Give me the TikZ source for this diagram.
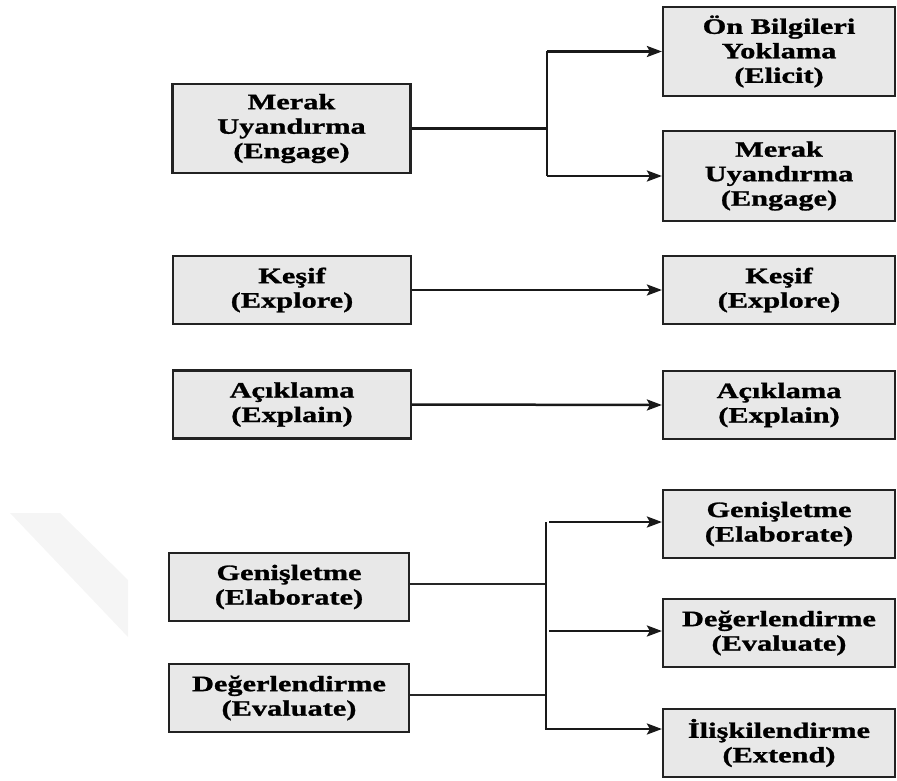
\documentclass[tikz,border=0pt]{standalone}
\usepackage{fontspec}
\usetikzlibrary{arrows.meta}
\newfontfamily\boxfont{Liberation Serif Bold}[FakeStretch=1.38, FakeBold=1.2]
\definecolor{boxfill}{HTML}{E8E8E8}
\definecolor{boxline}{HTML}{222222}
\tikzset{
  stagebox/.style={draw=boxline, line width=2.2pt, fill=boxfill, inner sep=0pt,
    align=center, font=\boxfont\fontsize{22}{24.5}\selectfont},
  leftbox/.style={stagebox, minimum width=238pt},
  rightbox/.style={stagebox, minimum width=232pt},
  flow/.style={draw=black!90, line width=2.5pt, -{Stealth[length=15pt,width=11pt,inset=3pt]}},
  link/.style={draw=black!90, line width=2.5pt},
  thinlink/.style={draw=black!85, line width=1.7pt}
}
\begin{document}
\begin{tikzpicture}[x=1pt,y=-1pt]
  \useasboundingbox (0,0) rectangle (897,781);

  % faint diagonal band in the lower left
  \fill[black!4] (10,513) -- (60,513) -- (128,580) -- (128,637) -- cycle;

  % stages of the first model
  \node[leftbox, minimum height=89pt] (lEng) at (291.5,128.5) {Merak\\Uyandırma\\(Engage)};
  \node[leftbox, minimum height=68pt] (lExp) at (292,290) {Keşif\\(Explore)};
  \node[leftbox, minimum height=68pt] (lExl) at (292,404.5) {Açıklama\\(Explain)};
  \node[leftbox, minimum width=240pt, minimum height=68pt] (lEla) at (289,587) {Genişletme\\(Elaborate)};
  \node[leftbox, minimum width=240pt, minimum height=68pt] (lEva) at (289,698) {Değerlendirme\\(Evaluate)};

  % stages of the extended model
  \node[rightbox, minimum height=89pt] (rEli) at (779,51.5) {Ön Bilgileri\\Yoklama\\(Elicit)};
  \node[rightbox, minimum height=90pt] (rEng) at (779,176) {Merak\\Uyandırma\\(Engage)};
  \node[rightbox, minimum height=68pt] (rExp) at (779,290) {Keşif\\(Explore)};
  \node[rightbox, minimum height=68pt] (rExl) at (779,405) {Açıklama\\(Explain)};
  \node[rightbox, minimum height=68pt] (rEla) at (779,524) {Genişletme\\(Elaborate)};
  \node[rightbox, minimum height=68pt] (rEva) at (779,633) {Değerlendirme\\(Evaluate)};
  \node[rightbox, minimum height=68pt] (rExt) at (779,743) {İlişkilendirme\\(Extend)};

  % branch points
  \coordinate (jt) at (547,128.5);
  \coordinate (jb) at (546,640);

  % engage splits into elicit and engage
  \draw[link] (lEng.east) -- (jt);
  \draw[link] (jt |- rEli.west) -- (jt |- rEng.west);
  \draw[flow] (jt |- rEli.west) -- (rEli.west);
  \draw[flow] (jt |- rEng.west) -- (rEng.west);

  % one-to-one stages
  \draw[flow] (lExp.east) -- (rExp.west);
  \draw[flow] (lExl.east) -- (rExl.west);

  % elaborate and evaluate feed the last three stages
  \draw[thinlink] ([yshift=3pt]lEla.east) -- ([yshift=3pt]lEla.east -| jb);
  \draw[thinlink] ([yshift=3pt]lEva.east) -- ([yshift=3pt]lEva.east -| jb);
  \draw[link] ([yshift=2pt]rEla.west -| jb) -- ([yshift=14pt]rExt.west -| jb);
  \draw[flow] ([yshift=2pt,xshift=3pt]rEla.west -| jb) -- ([yshift=2pt]rEla.west);
  \draw[flow] ([yshift=2pt,xshift=3pt]rEva.west -| jb) -- ([yshift=2pt]rEva.west);
  \draw[flow] ([yshift=14pt,xshift=-1.25pt]rExt.west -| jb) -- ([yshift=14pt]rExt.west);
\end{tikzpicture}
\end{document}
